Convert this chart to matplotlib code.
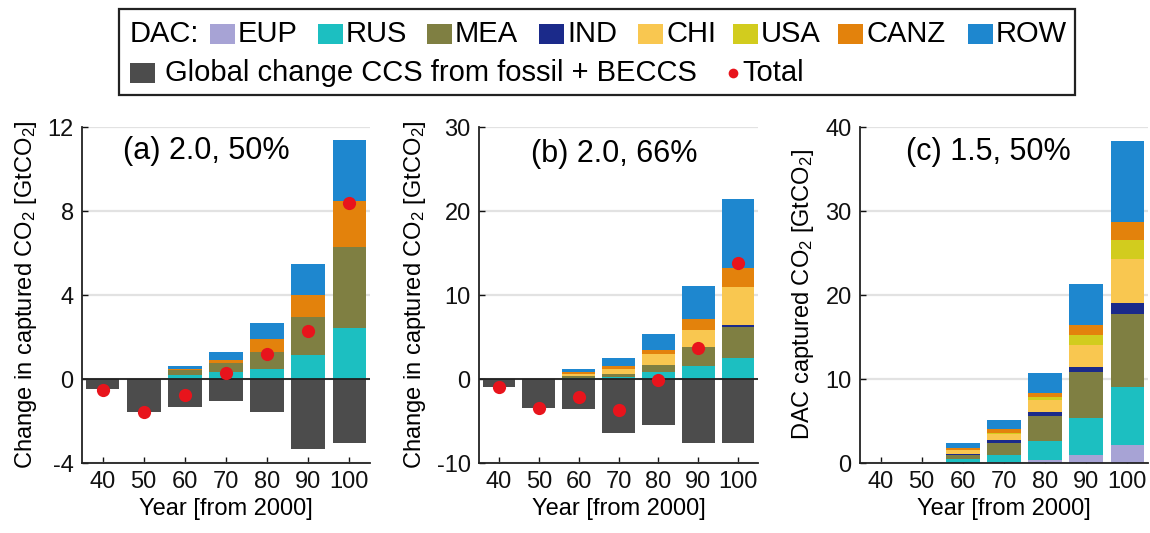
import matplotlib
matplotlib.use("Agg")
import matplotlib.pyplot as plt
from matplotlib.patches import Rectangle
from matplotlib.lines import Line2D
import numpy as np

plt.rcParams['font.family'] = ['Liberation Sans', 'DejaVu Sans']
plt.rcParams['mathtext.fontset'] = 'custom'
plt.rcParams['mathtext.rm'] = 'Liberation Sans'
plt.rcParams['mathtext.it'] = 'Liberation Sans'
plt.rcParams['axes.unicode_minus'] = False

# ---------------- data ----------------
years = [40, 50, 60, 70, 80, 90, 100]
regions = ['EUP', 'RUS', 'MEA', 'IND', 'CHI', 'USA', 'CANZ', 'ROW']
region_colors = ['#a7a3d5', '#1cbfc1', '#7f7f42', '#1b2a8a', '#f9c750', '#d2cc1e', '#e3820c', '#1e87cf']

# panel (a) 2.0, 50%
a_EUP = [0, 0, 0, 0, 0, 0, 0]
a_RUS = [0, 0, 0.20, 0.35, 0.50, 1.12, 2.41]
a_MEA = [0, 0, 0.21, 0.40, 0.80, 1.83, 3.89]
a_IND = [0, 0, 0, 0, 0, 0, 0]
a_CHI = [0, 0, 0, 0, 0, 0, 0]
a_USA = [0, 0, 0, 0, 0, 0, 0]
a_CANZ = [0, 0, 0.07, 0.15, 0.60, 1.05, 2.20]
a_ROW = [0, 0, 0.12, 0.40, 0.75, 1.50, 2.90]
a_ccs = [-0.48, -1.57, -1.35, -1.03, -1.55, -3.33, -3.06]
a_total = [-0.50, -1.55, -0.75, 0.30, 1.20, 2.28, 8.40]

# panel (b) 2.0, 66%
b_EUP = [0, 0, 0, 0, 0, 0, 0]
b_RUS = [0, 0, 0.10, 0.20, 0.80, 1.50, 2.50]
b_MEA = [0, 0, 0.25, 0.40, 0.90, 2.27, 3.70]
b_IND = [0, 0, 0, 0, 0, 0, 0.20]
b_CHI = [0, 0, 0.25, 0.60, 1.30, 2.06, 4.50]
b_USA = [0, 0, 0, 0, 0, 0, 0]
b_CANZ = [0, 0, 0.20, 0.30, 0.45, 1.27, 2.30]
b_ROW = [0, 0, 0.45, 1.05, 1.95, 4.00, 8.20]
b_ccs = [-1.0, -3.5, -3.6, -6.4, -5.5, -7.6, -7.65]
b_total = [-1.0, -3.5, -2.2, -3.7, -0.1, 3.65, 13.8]

# panel (c) 1.5, 50%
c_EUP = [0, 0, 0.05, 0.15, 0.40, 0.90, 2.10]
c_RUS = [0, 0, 0.40, 0.85, 2.25, 4.50, 7.00]
c_MEA = [0, 0, 0.55, 1.40, 3.00, 5.40, 8.60]
c_IND = [0, 0, 0.05, 0.30, 0.40, 0.60, 1.30]
c_CHI = [0, 0, 0.45, 0.70, 1.45, 2.60, 5.30]
c_USA = [0, 0, 0.10, 0.20, 0.40, 1.20, 2.30]
c_CANZ = [0, 0, 0.20, 0.40, 0.40, 1.20, 2.10]
c_ROW = [0, 0, 0.60, 1.10, 2.40, 4.90, 9.60]

xticklabels = ['40', '50', '60', '70', '80', '90', '100']
a_yticks = [-4, 0, 4, 8, 12]
b_yticks = [-10, 0, 10, 20, 30]
c_yticks = [0, 10, 20, 30, 40]
titles = ['(a) 2.0, 50%', '(b) 2.0, 66%', '(c) 1.5, 50%']
ylabels = [r'Change in captured CO$_2$ [GtCO$_2$]',
           r'Change in captured CO$_2$ [GtCO$_2$]',
           r'DAC captured CO$_2$ [GtCO$_2$]']
xlabel = 'Year [from 2000]'

ccs_color = '#4c4c4c'
total_color = '#e8141c'

# ---------------- figure ----------------
W, H = 1150, 533
fig = plt.figure(figsize=(W / 100, H / 100), dpi=100)

def px_axes(x0, x1, ytop, ybot):
    return fig.add_axes([x0 / W, 1 - ybot / H, (x1 - x0) / W, (ybot - ytop) / H])

axes = [px_axes(82, 370, 127, 463), px_axes(479, 758, 127, 463), px_axes(860, 1148, 127, 463)]

panels = [
    ([a_EUP, a_RUS, a_MEA, a_IND, a_CHI, a_USA, a_CANZ, a_ROW], a_ccs, a_total, a_yticks, (-4, 12)),
    ([b_EUP, b_RUS, b_MEA, b_IND, b_CHI, b_USA, b_CANZ, b_ROW], b_ccs, b_total, b_yticks, (-10, 30)),
    ([c_EUP, c_RUS, c_MEA, c_IND, c_CHI, c_USA, c_CANZ, c_ROW], None, None, c_yticks, (0, 40)),
]
title_pos = [(0.43, 0.93), (0.485, 0.92), (0.445, 0.925)]
ylabel_pads = [6, 6, 7]

bw = 8.2
for i, (ax, (dac, ccs, total, yt, yl)) in enumerate(zip(axes, panels)):
    bottom = np.zeros(len(years))
    for vals, col in zip(dac, region_colors):
        v = np.array(vals, dtype=float)
        ax.bar(years, v, bw, bottom=bottom, color=col, linewidth=0, zorder=2)
        bottom += v
    if ccs is not None:
        ax.bar(years, ccs, bw, color=ccs_color, linewidth=0, zorder=2)
        ax.axhline(0, color='#202020', lw=1.3, zorder=3)
        ax.plot(years, total, 'o', color=total_color, ms=9.5, mec='none', zorder=4)
    ax.set_xlim(35, 105)
    ax.set_ylim(*yl)
    ax.set_yticks(yt)
    ax.set_xticks(years)
    ax.set_xticklabels(xticklabels)
    ax.yaxis.grid(True, color='#e2e2e2', lw=1.6)
    ax.set_axisbelow(True)
    for s in ['top', 'right']:
        ax.spines[s].set_visible(False)
    for s in ['left', 'bottom']:
        ax.spines[s].set_linewidth(1.3)
        ax.spines[s].set_color('#222222')
        ax.spines[s].set_zorder(5)
    ax.tick_params(direction='in', length=4, width=1.0, labelsize=17, pad=6, colors='#111111')
    ax.set_ylabel(ylabels[i], fontsize=17, labelpad=ylabel_pads[i])
    ax.set_xlabel(xlabel, fontsize=17, labelpad=3)
    ax.text(title_pos[i][0], title_pos[i][1], titles[i], transform=ax.transAxes,
            ha='center', va='center', fontsize=22, zorder=6)

# ---------------- legend (drawn in figure pixels) ----------------
def fx(x):
    return x / W

def fy(y):
    return 1 - y / H

fig.add_artist(Rectangle((fx(119), fy(95)), (1075 - 119) / W, (95 - 9) / H,
                         transform=fig.transFigure, fill=False, edgecolor='#222222', lw=1.6))
row1 = 34
row2 = 73
fsz = 21
fig.text(fx(130), fy(row1), 'DAC:', fontsize=fsz, ha='left', va='center')
patch_x = [210, 318, 427, 539, 638, 733, 838, 968]
for px, name, col in zip(patch_x, regions, region_colors):
    fig.add_artist(Rectangle((fx(px), fy(row1 + 10)), 25 / W, 20 / H,
                             transform=fig.transFigure, color=col, lw=0))
    fig.text(fx(px + 28), fy(row1), name, fontsize=fsz, ha='left', va='center')
fig.add_artist(Rectangle((fx(130), fy(row2 + 10)), 25 / W, 20 / H,
                         transform=fig.transFigure, color=ccs_color, lw=0))
fig.text(fx(165), fy(row2), 'Global change CCS from fossil + BECCS', fontsize=fsz,
         ha='left', va='center')
fig.add_artist(Line2D([fx(733)], [fy(row2)], marker='o', color=total_color, ms=7,
                      mec='none', transform=fig.transFigure))
fig.text(fx(742), fy(row2), 'Total', fontsize=fsz, ha='left', va='center')

fig.savefig('out.png', dpi=100)
